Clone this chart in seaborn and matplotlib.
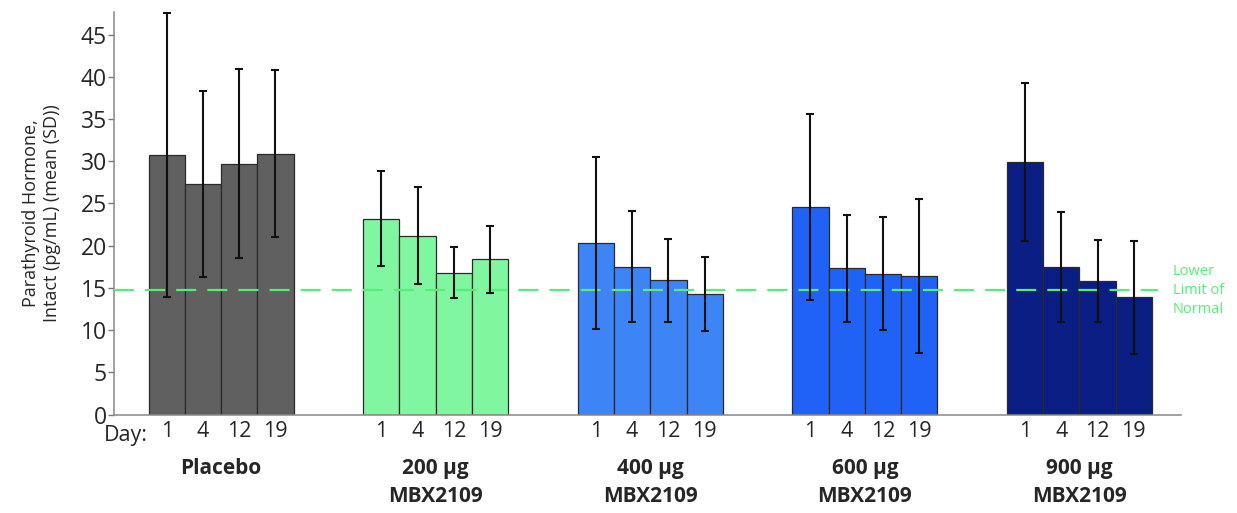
import pandas as pd
import matplotlib.pyplot as plt
import matplotlib.transforms as mtransforms
import seaborn as sns

# Data
groups = ['Placebo', '200 µg\nMBX2109', '400 µg\nMBX2109', '600 µg\nMBX2109', '900 µg\nMBX2109']
days = ['1', '4', '12', '19']
placebo_mean = [30.7, 27.3, 29.7, 30.9]
placebo_sd = [16.8, 11.0, 11.2, 9.9]
mbx200_mean = [23.2, 21.2, 16.8, 18.4]
mbx200_sd = [5.6, 5.7, 3.0, 3.95]
mbx400_mean = [20.3, 17.5, 15.9, 14.3]
mbx400_sd = [10.2, 6.6, 4.9, 4.4]
mbx600_mean = [24.6, 17.3, 16.7, 16.4]
mbx600_sd = [11.0, 6.3, 6.7, 9.1]
mbx900_mean = [29.9, 17.5, 15.8, 13.9]
mbx900_sd = [9.4, 6.5, 4.9, 6.7]
lower_limit = 14.7

group_colors = ['#606060', '#80f6a0', '#3d84f6', '#2162f6', '#0a1e84']
limit_color = '#55ee77'

means = [placebo_mean, mbx200_mean, mbx400_mean, mbx600_mean, mbx900_mean]
sds = [placebo_sd, mbx200_sd, mbx400_sd, mbx600_sd, mbx900_sd]

rows = []
for g, m, s in zip(groups, means, sds):
    for d, v, e in zip(days, m, s):
        rows.append({'group': g, 'day': d, 'value': v, 'sd': e})
df = pd.DataFrame(rows)

sns.set_theme(style='white')
plt.rcParams['font.family'] = ['Open Sans', 'DejaVu Sans']

fig = plt.figure(figsize=(12.37, 5.13), dpi=100)
ax = fig.add_axes([0.092, 0.192, 0.863, 0.785])

sns.barplot(data=df, x='group', y='value', hue='day', order=groups, hue_order=days,
            width=0.676, gap=0, errorbar=None, legend=False, ax=ax,
            edgecolor='#2a2a2a', linewidth=0.9)

# colour each bar by its group and add SD error bars
bars = [p for p in ax.patches if p.get_height() > 0]
bars.sort(key=lambda p: p.get_x())
centers = []
for i, p in enumerate(bars):
    g = i // len(days)
    p.set_facecolor(group_colors[g])
    centers.append(p.get_x() + p.get_width() / 2)
ax.errorbar(centers, df['value'], yerr=df['sd'], fmt='none',
            ecolor='#111111', elinewidth=1.5, capsize=3, capthick=1.5, zorder=5)

# lower limit of normal
ax.axhline(lower_limit, xmin=0, xmax=0.978, color=limit_color, lw=1.6,
           dashes=(9, 5), zorder=4)
ax.text(0.992, lower_limit, 'Lower\nLimit of\nNormal', transform=ax.get_yaxis_transform(),
        color=limit_color, fontsize=10.5, va='center', ha='left', linespacing=1.35,
        clip_on=False)

ax.set_xlim(-0.5, 4.475)
ax.set_ylim(0, 47.7)
ax.set_yticks(range(0, 50, 5))
ax.tick_params(axis='y', labelsize=16.5, length=4, width=1, color='#777777', pad=1, left=True)

ax.set_xticks(centers)
ax.set_xticklabels(days * len(groups), fontsize=15.5)
ax.tick_params(axis='x', length=0, pad=5)

trans = mtransforms.blended_transform_factory(ax.transData, ax.transAxes)
ax.text(centers[0] - 0.09, -0.027, 'Day:', transform=trans, fontsize=15.5,
        ha='right', va='top')
for i, g in enumerate(groups):
    ax.text(i, -0.108, g, transform=trans, fontsize=15, fontweight='bold',
            ha='center', va='top', linespacing=1.45)

ax.set_xlabel('')
ax.set_ylabel('Parathyroid Hormone,\nIntact (pg/mL) (mean (SD))', fontsize=13, labelpad=14)

sns.despine(ax=ax, top=True, right=True)
for side in ['left', 'bottom']:
    ax.spines[side].set_color('#888888')
    ax.spines[side].set_linewidth(1.1)

plt.savefig('out.png', dpi=100)
